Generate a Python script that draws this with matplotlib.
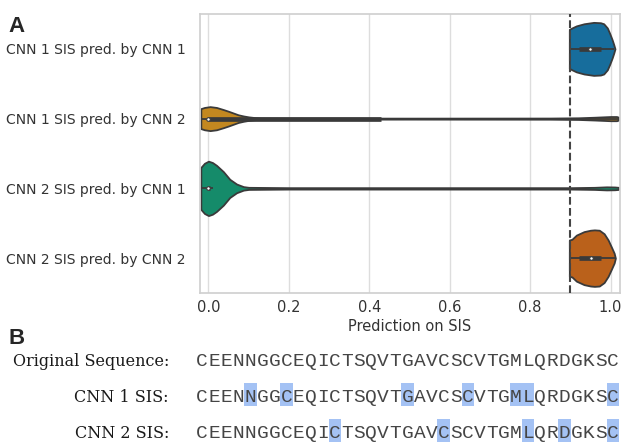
import matplotlib
matplotlib.use("Agg")
import matplotlib.pyplot as plt
from matplotlib.patches import Rectangle
import seaborn as sns

# ---- panel A: violin outlines ----
row_labels = ["CNN 1 SIS pred. by CNN 1", "CNN 1 SIS pred. by CNN 2",
              "CNN 2 SIS pred. by CNN 1", "CNN 2 SIS pred. by CNN 2"]

# prediction value -> half width of the violin (in category units)
v1_x = [0.8975, 0.904, 0.915, 0.934, 0.958, 0.975, 0.983, 0.992, 0.998, 1.004, 1.008, 1.011]
v1_w = [0.28, 0.30, 0.33, 0.36, 0.38, 0.375, 0.36, 0.30, 0.22, 0.13, 0.06, 0.0]

v2_x = [-0.019, -0.01, 0.004, 0.02, 0.037, 0.05, 0.062, 0.074, 0.087, 0.10, 0.115, 0.13,
        0.2, 0.5, 0.85, 0.92, 0.96, 1.0, 1.015, 1.02]
v2_w = [0.143, 0.16, 0.172, 0.16, 0.13, 0.105, 0.08, 0.055, 0.038, 0.025, 0.015, 0.01,
        0.008, 0.007, 0.008, 0.012, 0.02, 0.03, 0.03, 0.02]

v3_x = [-0.019, -0.01, 0.0, 0.01, 0.02, 0.037, 0.053, 0.07, 0.087, 0.10, 0.2, 0.5,
        0.9, 0.96, 0.99, 1.01, 1.02]
v3_w = [0.30, 0.36, 0.39, 0.37, 0.33, 0.24, 0.13, 0.062, 0.025, 0.015, 0.01, 0.01,
        0.01, 0.015, 0.022, 0.02, 0.015]

v4_x = [0.8975, 0.904, 0.915, 0.934, 0.950, 0.960, 0.972, 0.984, 0.994, 1.002, 1.009, 1.012]
v4_w = [0.26, 0.27, 0.33, 0.38, 0.40, 0.405, 0.40, 0.35, 0.26, 0.16, 0.07, 0.0]

# box stats: whisker low, q1, median, q3, whisker high
box_stats = [
    [0.8975, 0.922, 0.950, 0.977, 1.009],
    [-0.019, 0.0, 0.0, 0.43, 1.02],
    [-0.019, -0.002, 0.0, 0.004, 0.01],
    [0.8975, 0.922, 0.952, 0.977, 1.011],
]
threshold = 0.9

# ---- panel B: sequences ----
sequence = "CEENNGGCEQICTSQVTGAVCSCVTGMLQRDGKSC"
seq_labels = ["Original Sequence:", "CNN 1 SIS:", "CNN 2 SIS:"]
highlight_cnn1 = [4, 7, 17, 22, 26, 27, 34]
highlight_cnn2 = [11, 20, 27, 30, 34]

sns.set_style("whitegrid")
plt.rcParams['font.family'] = ['DejaVu Sans']

W, H = 621, 442
fig = plt.figure(figsize=(W / 100, H / 100), dpi=100)
ax = fig.add_axes([199.8 / W, 1 - 293 / H, 420 / W, 279 / H])

colors = sns.color_palette("colorblind", desat=0.75)
pal = [colors[0], colors[1], colors[2], colors[3]]
gray = "#3a3a3a"
lw = 1.3

profiles = [(v1_x, v1_w), (v2_x, v2_w), (v3_x, v3_w), (v4_x, v4_w)]
for i, (xs, ws) in enumerate(profiles):
    lo = [i - w for w in ws]
    hi = [i + w for w in ws]
    ax.fill_between(xs, lo, hi, facecolor=pal[i], edgecolor=gray, linewidth=lw, zorder=2)
    wl, q1, med, q3, wh = box_stats[i]
    ax.plot([wl, wh], [i, i], color=gray, linewidth=lw, solid_capstyle="butt", zorder=3)
    ax.plot([q1, q3], [i, i], color=gray, linewidth=lw * 2.6, solid_capstyle="butt", zorder=3)
    ax.scatter([med], [i], s=(lw * 2) ** 2, color="white", edgecolor=gray,
               linewidth=0.8, zorder=4)

ax.axvline(threshold, color="#444444", linestyle="--", linewidth=1.5, zorder=5)

ax.set_xlim(-0.0216, 1.023)
ax.set_ylim(3.5, -0.5)
ax.set_yticks(range(4))
ax.set_yticklabels(row_labels, fontsize=10, color="#333333")
ax.set_xticks([0.0, 0.2, 0.4, 0.6, 0.8, 1.0])
ax.set_xticklabels(["0.0", "0.2", "0.4", "0.6", "0.8", "1.0"], fontsize=10.5, color="#333333")
ax.tick_params(axis="y", length=0, pad=10)
ax.tick_params(axis="x", length=0, pad=5)
ax.set_xlabel("Prediction on SIS", fontsize=10.5, color="#333333", labelpad=3)
ax.grid(False, axis="y")
ax.grid(True, axis="x", color="#dddddd", linewidth=1)
for s in ax.spines.values():
    s.set_color("#d0d0d0")
    s.set_linewidth(1.25)

fig.text(8 / W, 1 - 16 / H, "A", fontsize=16, fontweight="bold",
         family="Liberation Sans", va="top", ha="left")
fig.text(9 / W, 1 - 328 / H, "B", fontsize=16, fontweight="bold",
         family="Liberation Sans", va="top", ha="left")

# panel B axes: x in character units, y in pixels below y=345
pitch = 12.08
n = len(sequence)
axb = fig.add_axes([196 / W, 0, n * pitch / W, 97 / H])
axb.set_xlim(0, n)
axb.set_ylim(97, 0)
axb.axis("off")

baselines = [21, 57, 92.5]
for r, lab in enumerate(seq_labels):
    axb.text((169 - 196) / pitch, baselines[r], lab, ha="right", va="baseline",
             family="DejaVu Serif", fontsize=11.5, color="#1a1a1a", clip_on=False)

for r, idx in [(1, highlight_cnn1), (2, highlight_cnn2)]:
    for k in idx:
        axb.add_patch(Rectangle((k - 0.01, baselines[r] - 19), 1.02, 23,
                                facecolor="#a4c2f4", edgecolor="none", clip_on=False))

for r in range(3):
    for k, ch in enumerate(sequence):
        axb.text(k + 0.5, baselines[r], ch, ha="center", va="baseline",
                 family="Liberation Mono", fontsize=14, color="#454545", clip_on=False)

fig.savefig("out.png", dpi=100)
